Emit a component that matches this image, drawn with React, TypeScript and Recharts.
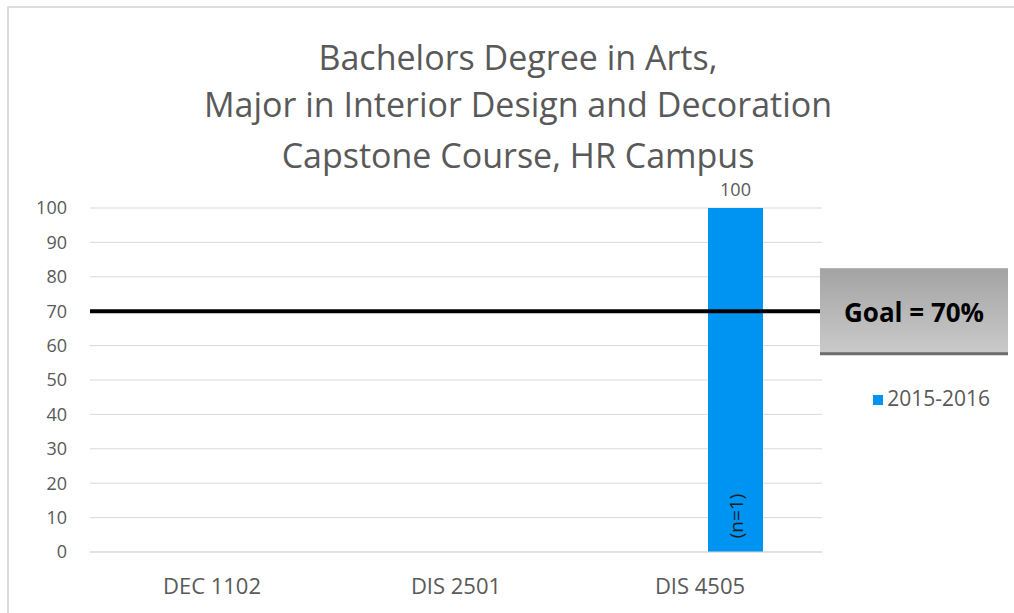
import React from 'react';
import { BarChart, Bar, XAxis, YAxis, CartesianGrid, Legend, ReferenceLine, LabelList } from 'recharts';

const categories = ['DEC 1102', 'DIS 2501', 'DIS 4505'];
const prior: (number | null)[] = [null, null, null];
const year2015: (number | null)[] = [null, null, 100];
const sampleSizes = ['', '', '(n=1)'];
const yTicks = [0, 10, 20, 30, 40, 50, 60, 70, 80, 90, 100];
const goal = 70;
const titleLines = ['Bachelors Degree in Arts,', 'Major in Interior Design and Decoration', 'Capstone Course, HR Campus'];

const data = categories.map((course, i) => ({
    course,
    prior: prior[i],
    y2015: year2015[i],
    n: sampleSizes[i],
}));

const FONT = '"Open Sans", Lato, sans-serif';
const GRAY = '#595959';

const GoalBox = (props: any) => {
    const vb = props.viewBox || {};
    const x = vb.x + vb.width - 2;
    const y = vb.y - 43;
    return (
        <g>
            <defs>
                <linearGradient id="goalGrad" x1="0" y1="0" x2="0" y2="1">
                    <stop offset="0%" stopColor="#a3a3a3" />
                    <stop offset="100%" stopColor="#cbcbcb" />
                </linearGradient>
            </defs>
            <rect x={x} y={y} width={188} height={87} fill="url(#goalGrad)" />
            <rect x={x} y={y + 84} width={188} height={3} fill="#6f6f6f" />
            <text x={x + 94} y={y + 44} textAnchor="middle" dominantBaseline="central"
                fontFamily={FONT} fontWeight="bold" fontSize={26} fill="#000">
                Goal = 70%
            </text>
        </g>
    );
};

const NLabel = (props: any) => {
    const { x, y, width, height, value } = props;
    if (!value) return null;
    const cx = x + width / 2;
    const cy = y + height - 36;
    return (
        <text x={cx} y={cy} transform={`rotate(-90, ${cx}, ${cy})`} textAnchor="middle" dominantBaseline="central"
            fontFamily={FONT} fontSize={19} fill="#1a1a1a">
            {value}
        </text>
    );
};

export default function App() {
    return (
        <div style={{ position: 'absolute', left: 0, top: 0, width: 1014, height: 613, background: '#fff' }}>
            <div style={{ position: 'absolute', left: 7, top: 6, width: 1007, height: 607, borderLeft: '2px solid #dcdcdc', borderTop: '2px solid #dcdcdc' }} />
            {titleLines.map((t, i) => (
                <div key={i} style={{
                    position: 'absolute', left: 0, width: 1036, top: [57, 104, 155][i] - 16, height: 32, lineHeight: '32px',
                    textAlign: 'center', fontFamily: FONT, fontSize: 34, color: GRAY,
                }}>{t}</div>
            ))}
            <div style={{ position: 'absolute', left: 0, top: 0 }}>
                <BarChart width={1014} height={613} data={data} margin={{ top: 208, right: 52, bottom: 31, left: 0 }}
                    barSize={55} barGap={16}>
                    <CartesianGrid vertical={false} stroke="#d9d9d9" />
                    <XAxis dataKey="course" height={30} axisLine={{ stroke: '#d9d9d9' }} tickLine={false} tickMargin={20}
                        tick={{ fill: GRAY, fontSize: 22, fontFamily: FONT }} />
                    <YAxis width={90} domain={[0, 100]} ticks={yTicks} axisLine={false} tickLine={false} tickMargin={17}
                        tick={{ fill: GRAY, fontSize: 18, fontFamily: FONT }} />
                    <Legend layout="horizontal" align="right" verticalAlign="middle" iconType="square" iconSize={10}
                        wrapperStyle={{ left: 860, top: 384, width: 140, fontFamily: FONT, fontSize: 21 }}
                        formatter={(v: string) => <span style={{ color: GRAY }}>{v}</span>} />
                    <Bar dataKey="prior" name="2014-2015" fill="#a5a5a5" legendType="none" isAnimationActive={false} />
                    <Bar dataKey="y2015" name="2015-2016" fill="#0094f2" isAnimationActive={false}>
                        <LabelList dataKey="y2015" position="top" offset={12} fill={GRAY} fontSize={18} fontFamily={FONT} />
                        <LabelList dataKey="n" content={<NLabel />} />
                    </Bar>
                    <ReferenceLine y={goal} stroke="#000" strokeWidth={4} label={<GoalBox />} />
                </BarChart>
            </div>
        </div>
    );
}
